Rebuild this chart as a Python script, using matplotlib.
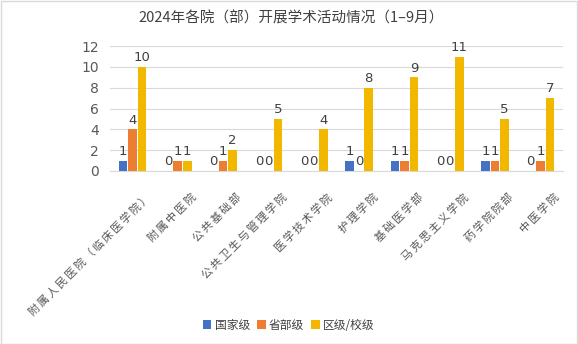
import matplotlib
matplotlib.use("Agg")
import matplotlib.pyplot as plt
import matplotlib.transforms as mtransforms
from matplotlib.patches import Rectangle
import numpy as np

plt.rcParams['font.family'] = ['Noto Sans CJK SC', 'DejaVu Sans']

title = "2024年各院（部）开展学术活动情况（1–9月）"
categories = ["附属人民医院（临床医学院）", "附属中医院", "公共基础部", "公共卫生与管理学院",
              "医学技术学院", "护理学院", "基础医学部", "马克思主义学院", "药学院院部", "中医学院"]
series_names = ["国家级", "省部级", "区级/校级"]
national = [1, 0, 0, 0, 0, 1, 1, 0, 1, 0]
provincial = [4, 1, 1, 0, 0, 0, 1, 0, 1, 1]
school = [10, 1, 2, 5, 4, 8, 9, 11, 5, 7]
colors = ["#4472C4", "#ED7D31", "#F2B800"]
yticks = [0, 2, 4, 6, 8, 10, 12]

fig = plt.figure(figsize=(5.78, 3.44), dpi=100)
fig.patches.append(Rectangle((0.001, 0.001), 0.997, 0.996, transform=fig.transFigure,
                             fill=False, edgecolor="#D9D9D9", linewidth=1.0))
ax = fig.add_axes([0.190, 0.503, 0.784, 0.363])

x = np.arange(len(categories))
w = 0.19
gap = 0.02
data = [national, provincial, school]
for i, (vals, c, name) in enumerate(zip(data, colors, series_names)):
    pos = x + (i - 1) * (w + gap)
    ax.bar(pos, vals, width=w, color=c, label=name, zorder=3)
    for xp, v in zip(pos, vals):
        ax.annotate(str(v), (xp, v), xytext=(0, 2), textcoords="offset points",
                    ha="center", va="bottom", fontsize=9.5, color="#404040",
                    family=['DejaVu Sans'])

ax.set_xlim(-0.5, len(categories) - 0.5)
ax.set_ylim(0, 12)
ax.set_yticks(yticks)
ax.set_yticklabels([str(t) for t in yticks], fontsize=10, color="#595959",
                   family=['DejaVu Sans'])
ax.grid(axis="y", color="#D9D9D9", linewidth=0.8, zorder=0)
for s in ["top", "right", "left"]:
    ax.spines[s].set_visible(False)
ax.spines["bottom"].set_color("#D9D9D9")
ax.tick_params(axis="y", length=0, pad=8)
ax.tick_params(axis="x", length=0, pad=2)
ax.set_xticks(x)
# Excel renders these rotated labels with extra letter spacing
ax.set_xticklabels(["\u2006".join(c) for c in categories], rotation=45, ha="right",
                   rotation_mode="anchor", fontsize=8, color="#595959")
offset = mtransforms.ScaledTranslation(13 / 100, -18 / 100, fig.dpi_scale_trans)
for lab in ax.get_xticklabels():
    lab.set_transform(lab.get_transform() + offset)

fig.text(0.503, 0.947, title, ha="center", va="center", fontsize=10.5, color="#404040")

handles, labels = ax.get_legend_handles_labels()
fig.legend(handles, labels, loc="center", bbox_to_anchor=(0.5, 0.055), ncol=3,
           frameon=False, fontsize=8.5, handlelength=0.7, handleheight=0.7,
           handletextpad=0.3, columnspacing=0.6, labelcolor="#404040")

fig.savefig("out.png", dpi=100)
